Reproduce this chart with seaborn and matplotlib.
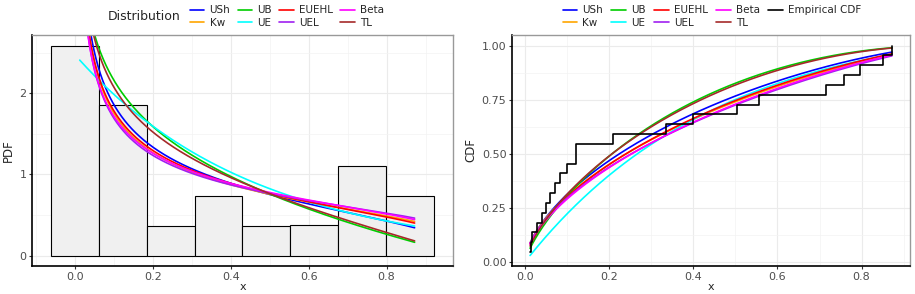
## Graficos PDF e CDF das distribuicoes ajustadas

import math
import numpy as np
import pandas as pd
import seaborn as sns
import matplotlib
matplotlib.use('Agg')
import matplotlib.pyplot as plt
from matplotlib.lines import Line2D
from matplotlib.ticker import MultipleLocator

## Dados
amostra = [0.012, 0.014, 0.017, 0.029, 0.040, 0.050, 0.059, 0.071, 0.083,
           0.100, 0.121, 0.121, 0.210, 0.335, 0.400, 0.504, 0.557, 0.715,
           0.758, 0.795, 0.851, 0.872]
n_bins = 8

distribuicoes = ['USh', 'Kw', 'UB', 'UE', 'EUEHL', 'UEL', 'Beta', 'TL']
familias = ['kw', 'kw', 'kw', 'texp', 'kw', 'beta', 'beta', 'tl']
par_a = [0.63, 0.60, 0.78, 2.2, 0.62, 0.58, 0.60, 0.70]
par_b = [1.40, 1.25, 2.00, 0.0, 1.30, 1.20, 1.25, 0.0]

## Cores
cores = {'USh': '#0000FF', 'Kw': '#FFA500', 'UB': '#00CD00', 'UE': '#00FFFF',
         'EUEHL': '#FF0000', 'UEL': '#A020F0', 'Beta': '#FF00FF', 'TL': '#A52A2A'}


## Densidade
def densidade(fam, a, b, x):
    if fam == 'kw':
        return a * b * x**(a - 1) * (1 - x**a)**(b - 1)
    if fam == 'tl':
        return 2 * a * x**(a - 1) * (1 - x) * (2 - x)**(a - 1)
    if fam == 'texp':
        return a * np.exp(-a * x) / (1 - np.exp(-a))
    B = math.exp(math.lgamma(a) + math.lgamma(b) - math.lgamma(a + b))
    return x**(a - 1) * (1 - x)**(b - 1) / B


## Acumulada
def acumulada(fam, a, b, x):
    if fam == 'kw':
        return 1 - (1 - x**a)**b
    if fam == 'tl':
        return (x * (2 - x))**a
    if fam == 'texp':
        return (1 - np.exp(-a * x)) / (1 - np.exp(-a))
    # beta: integral numerica
    t0 = 1e-9
    t = np.concatenate([np.geomspace(t0, x[0], 600, endpoint=False), x])
    f = densidade(fam, a, b, t)
    B = math.exp(math.lgamma(a) + math.lgamma(b) - math.lgamma(a + b))
    F = np.concatenate([[0], np.cumsum(np.diff(t) * (f[1:] + f[:-1]) / 2)])
    F = F + t0**a / (a * B)
    return F[-len(x):]


## Tabela das curvas
xs = np.linspace(min(amostra), max(amostra), 600)
linhas = []
for nome, fam, a, b in zip(distribuicoes, familias, par_a, par_b):
    linhas.append(pd.DataFrame({'x': xs,
                                'pdf': densidade(fam, a, b, xs),
                                'cdf': acumulada(fam, a, b, xs),
                                'Distribution': nome}))
curvas = pd.concat(linhas, ignore_index=True)

## Classes do histograma
largura = (max(amostra) - min(amostra)) / (n_bins - 1)
inicio = largura / 2 + np.floor((min(amostra) - largura / 2) / largura) * largura
bordas = inicio + largura * np.arange(n_bins + 1)
dens_max = np.histogram(amostra, bins=bordas, density=True)[0].max()

## Estilo
sns.set_style('white')
plt.rcParams['font.family'] = ['DejaVu Sans']

fig = plt.figure(figsize=(9.15, 2.94), dpi=100)
ax1 = fig.add_axes([32 / 915, 28 / 294, 421 / 915, 231 / 294])
ax2 = fig.add_axes([512 / 915, 28 / 294, 398 / 915, 231 / 294])

# Histograma + PDF
sns.histplot(x=amostra, bins=bordas, stat='density', ax=ax1,
             facecolor='#F0F0F0', edgecolor='black', linewidth=0.8, alpha=1)
sns.lineplot(data=curvas, x='x', y='pdf', hue='Distribution',
             hue_order=distribuicoes, palette=cores, ax=ax1,
             linewidth=1.2, legend=False, estimator=None, sort=False)
ax1.set_ylim(-0.05 * dens_max, 1.05 * dens_max)
ax1.set_xticks([0.0, 0.2, 0.4, 0.6, 0.8])
ax1.set_xticklabels(['0.0', '0.2', '0.4', '0.6', '0.8'])
ax1.set_yticks([0, 1, 2])
ax1.xaxis.set_minor_locator(MultipleLocator(0.1))
ax1.yaxis.set_minor_locator(MultipleLocator(0.5))
ax1.set_ylabel('PDF', fontsize=8.5, labelpad=3)

# ECDF + CDF
x_ord = np.sort(amostra)
y_ecdf = np.arange(1, len(x_ord) + 1) / len(x_ord)
sns.lineplot(data=curvas, x='x', y='cdf', hue='Distribution',
             hue_order=distribuicoes, palette=cores, ax=ax2,
             linewidth=1.2, legend=False, estimator=None, sort=False)
ax2.step(x_ord, y_ecdf, where='post', color='black', linewidth=1.2)
ax2.set_xticks([0.0, 0.2, 0.4, 0.6, 0.8])
ax2.set_xticklabels(['0.0', '0.2', '0.4', '0.6', '0.8'])
ax2.set_yticks([0.0, 0.25, 0.5, 0.75, 1.0])
ax2.set_yticklabels(['0.00', '0.25', '0.50', '0.75', '1.00'])
ax2.xaxis.set_minor_locator(MultipleLocator(0.1))
ax2.yaxis.set_minor_locator(MultipleLocator(0.125))
ax2.set_ylabel('CDF', fontsize=8.5, labelpad=3)

for ax in [ax1, ax2]:
    ax.set_xlabel('x', fontsize=8, labelpad=0)
    ax.set_axisbelow(True)
    ax.grid(which='major', color='#EBEBEB', linewidth=0.8)
    ax.grid(which='minor', color='#F3F3F3', linewidth=0.5)
    ax.tick_params(which='major', length=2.5, width=0.8, color='#333333',
                   labelsize=8, labelcolor='#4D4D4D', pad=1.5,
                   bottom=True, left=True)
    ax.tick_params(which='minor', length=0)
    for lado in ['top', 'right']:
        ax.spines[lado].set_color('#999999')
        ax.spines[lado].set_linewidth(1.0)
    for lado in ['left', 'bottom']:
        ax.spines[lado].set_color('black')
        ax.spines[lado].set_linewidth(1.2)

# Legendas
alcas = [Line2D([], [], color=cores[d], linewidth=1.2) for d in distribuicoes]
fig.text(144 / 915, 1 - 16.5 / 294, 'Distribution', ha='center', va='center',
         fontsize=9)
fig.legend(alcas, distribuicoes, ncol=4, loc='center',
           bbox_to_anchor=(287 / 915, 1 - 16.5 / 294), frameon=False,
           fontsize=7.5, handlelength=1.4, handletextpad=0.5,
           columnspacing=0.7, labelspacing=0.2, borderpad=0)
alcas2 = alcas + [Line2D([], [], color='black', linewidth=1.2)]
fig.legend(alcas2, distribuicoes + ['Empirical CDF'], ncol=5, loc='center',
           bbox_to_anchor=(712 / 915, 1 - 16.5 / 294), frameon=False,
           fontsize=7.5, handlelength=1.4, handletextpad=0.5,
           columnspacing=0.8, labelspacing=0.2, borderpad=0)

plt.savefig('out.png', dpi=100)
